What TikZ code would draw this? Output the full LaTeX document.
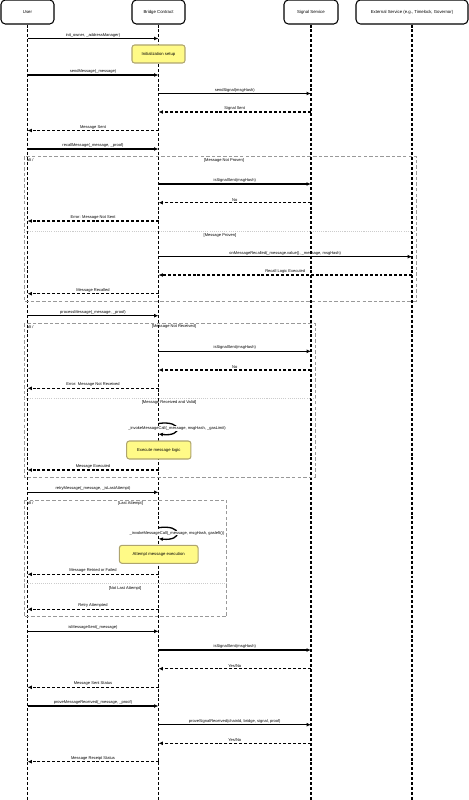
\documentclass[tikz,border=0pt]{standalone}
\usepackage{fontspec}
\setmainfont{Liberation Sans}
\usetikzlibrary{arrows.meta}
\definecolor{notefill}{RGB}{255,250,135}
\definecolor{notedraw}{RGB}{175,165,110}
\newcommand\msgline[5]{\draw[#5] (#1.south |- 0,#3) -- node[lbl, above=0.2pt] {#4} (#2.south |- 0,#3);}
\begin{document}
\begin{tikzpicture}[x=0.02cm,y=-0.02cm,
 head/.style={draw, rounded corners=2.5pt, line width=0.6pt, fill=white, minimum height=0.48cm, font=\fontsize{2.45}{3}\selectfont, inner sep=0pt},
 life/.style={line width=0.7pt, dash pattern=on 1.7pt off 1.1pt},
 call/.style={line width=0.75pt, -{Latex[length=2.5pt,width=2.2pt]}},
 ret/.style={call, dash pattern=on 1.7pt off 1.1pt},
 lbl/.style={font=\fontsize{2.3}{2.8}\selectfont, inner sep=0.3pt},
 frame/.style={draw=black!40, line width=0.5pt, dash pattern=on 2pt off 1.2pt},
 divider/.style={draw=black!20, line width=0.5pt, dash pattern=on 0.6pt off 0.6pt},
 note/.style={draw=notedraw, fill=notefill, rounded corners=1.5pt, line width=0.6pt, minimum height=0.36cm, font=\fontsize{2.4}{2.9}\selectfont, inner sep=0pt},
]
\useasboundingbox (0,0) rectangle (469,800);
% heads
\node[head, minimum width=1.06cm] (user) at (27.5,12) {User};
\node[head, minimum width=1.06cm] (bridge) at (158.5,12) {Bridge Contract};
\node[head, minimum width=1.08cm] (signal) at (311,12) {Signal Service};
\node[head, minimum width=2.24cm] (ext) at (412,12) {External Service (e.g., Timelock, Governor)};
% lifelines
\foreach \n in {user,bridge,signal,ext} \draw[life] (\n.south) -- (\n.south |- 0,800);
% frames
\draw[frame] (24,156) rectangle (416,301);
\draw[divider] (24,231) -- (416,231);
\node[lbl, anchor=west] (alt1) at (26,160) {alt /};
\node[lbl] (g11) at (224,160) {[Message Not Proven]};
\node[lbl] (g12) at (220,235.5) {[Message Proven]};
\draw[frame] (24,323.3) rectangle (315,477);
\draw[divider] (24,398) -- (315,398);
\node[lbl, anchor=west] (alt2) at (26,327) {alt /};
\node[lbl] (g21) at (174,326.5) {[Message Not Received]};
\node[lbl] (g22) at (169,402) {[Message Received and Valid]};
\draw[frame] (24,500) rectangle (226.7,616.7);
\draw[divider] (24,583.7) -- (226.7,583.7);
\node[lbl, anchor=west] (alt3) at (26,503.5) {alt /};
\node[lbl] (g31) at (130.5,503.5) {[Last Attempt]};
\node[lbl] (g32) at (125,588) {[Not Last Attempt]};
% messages
\msgline{user}{bridge}{38.5}{init\_owner, \_addressManager)}{call}
\node[note, minimum width=1.06cm] (n1) at (158.5,54) {Initialization setup};
\msgline{user}{bridge}{75}{sendMessage(\_message)}{call}
\msgline{bridge}{signal}{93.5}{sendSignal(msgHash)}{call}
\msgline{signal}{bridge}{112}{Signal Sent}{ret}
\msgline{bridge}{user}{130.5}{Message Sent}{ret}
\msgline{user}{bridge}{149}{recallMessage(\_message, \_proof)}{call}
\msgline{bridge}{signal}{184}{isSignalSent(msgHash)}{call}
\msgline{signal}{bridge}{202.7}{No}{ret}
\msgline{bridge}{user}{221}{Error: Message Not Sent}{ret}
\msgline{bridge}{ext}{256.7}{onMessageRecalled(\_message.value(), \_message, msgHash)}{call}
\msgline{ext}{bridge}{275}{Recall Logic Executed}{ret}
\msgline{bridge}{user}{293.7}{Message Recalled}{ret}
\msgline{user}{bridge}{315.7}{processMessage(\_message, \_proof)}{call}
\msgline{bridge}{signal}{351.3}{isSignalSent(msgHash)}{call}
\msgline{signal}{bridge}{370}{No}{ret}
\msgline{bridge}{user}{388.3}{Error: Message Not Received}{ret}
\draw[call] (bridge.south |- 0,423.5) .. controls (183,420) and (183,437) .. (bridge.south |- 0,434);
\node[lbl, fill=white] (inv1) at (177,428.7) {\_invokeMessageCall(\_message, msgHash, \_gasLimit)};
\node[note, minimum width=1.286cm] (n2) at (158.8,450) {Execute message logic};
\msgline{bridge}{user}{470}{Message Executed}{ret}
\msgline{user}{bridge}{492.3}{retryMessage(\_message, \_isLastAttempt)}{call}
\draw[call] (bridge.south |- 0,527.7) .. controls (183,524) and (183,541.5) .. (bridge.south |- 0,538.7);
\node[lbl, fill=white] (inv2) at (177,533) {\_invokeMessageCall(\_message, msgHash, gasleft())};
\node[note, minimum width=1.574cm] (n3) at (158.7,554.3) {Attempt message execution};
\msgline{bridge}{user}{574.3}{Message Retried or Failed}{ret}
\msgline{bridge}{user}{609.3}{Retry Attempted}{ret}
\msgline{user}{bridge}{631.3}{isMessageSent(\_message)}{call}
\msgline{bridge}{signal}{650}{isSignalSent(msgHash)}{call}
\msgline{signal}{bridge}{668.7}{Yes/No}{ret}
\msgline{bridge}{user}{687.3}{Message Sent Status}{ret}
\msgline{user}{bridge}{706}{proveMessageReceived(\_message, \_proof)}{call}
\msgline{bridge}{signal}{724.7}{proveSignalReceived(chainId, bridge, signal, proof)}{call}
\msgline{signal}{bridge}{743.3}{Yes/No}{ret}
\msgline{bridge}{user}{761.7}{Message Receipt Status}{ret}
\end{tikzpicture}
\end{document}
